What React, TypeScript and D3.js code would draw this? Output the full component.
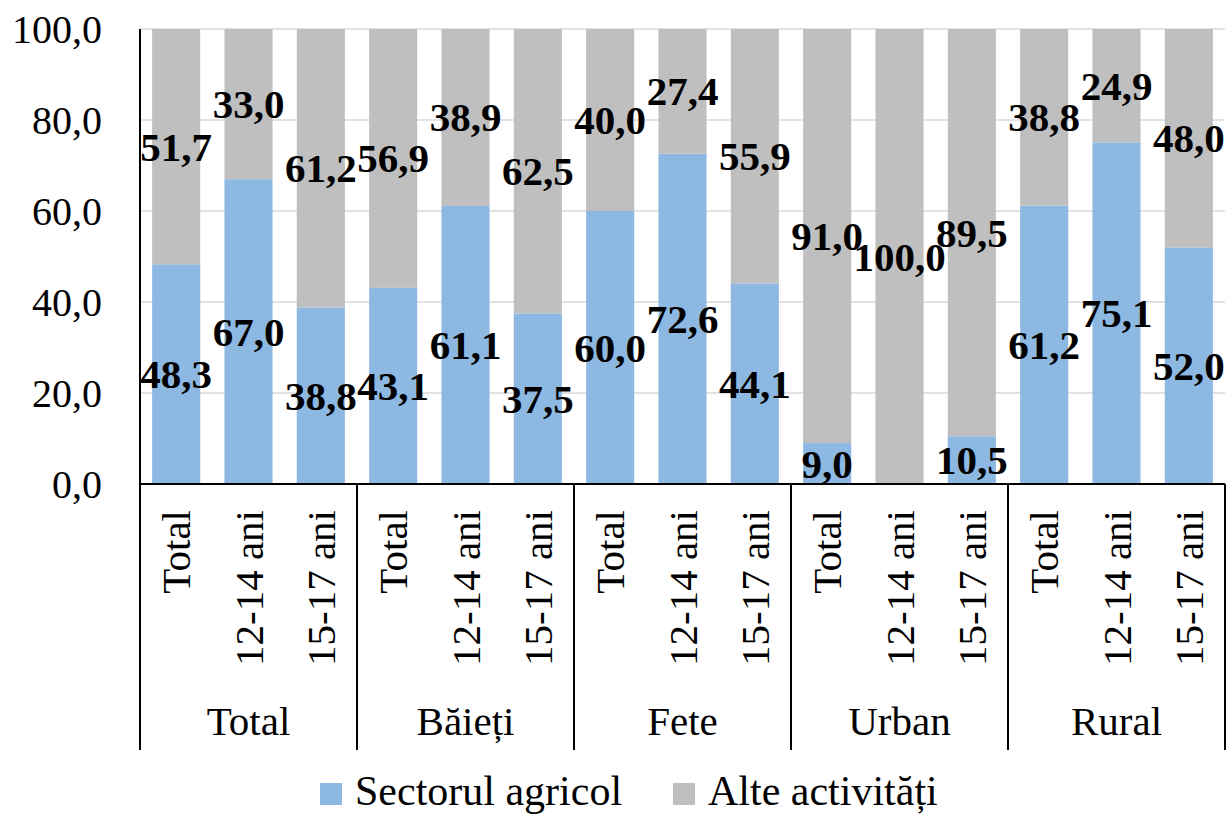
import React from 'react';
import * as d3 from 'd3';

const groups = ['Total', 'Băieți', 'Fete', 'Urban', 'Rural'];
const ages = ['Total', '12-14 ani', '15-17 ani'];
const agricol = [48.3, 67.0, 38.8, 43.1, 61.1, 37.5, 60.0, 72.6, 44.1, 9.0, 0, 10.5, 61.2, 75.1, 52.0];
const alte = [51.7, 33.0, 61.2, 56.9, 38.9, 62.5, 40.0, 27.4, 55.9, 91.0, 100.0, 89.5, 38.8, 24.9, 48.0];
const yTicks = [0, 20, 40, 60, 80, 100];
const seriesNames = ['Sectorul agricol', 'Alte activități'];

const W = 1232, H = 818;
const FONT = "'Liberation Serif', 'Times New Roman', serif";
const BLUE = '#8db8e2';
const GRAY = '#bfbfbf';

const left = 140, right = 1225, top = 29, bottom = 484, axisBottom = 750;

const keys = groups.flatMap(g => ages.map(a => g + '|' + a));
const x = d3.scaleBand().domain(keys).range([left, right]).paddingInner(0.335).paddingOuter(0.1675);
const y = d3.scaleLinear().domain([0, 100]).range([bottom, top]);
const gx = d3.scaleBand().domain(groups).range([left, right]);
const fmt = (v: number) => d3.format('.1f')(v).replace('.', ',');

export default function App() {
  const rows = keys.map((k, i) => ({ k, a: agricol[i], b: alte[i], cx: x(k)! + x.bandwidth() / 2 }));
  // legend entries: swatch x, text x
  const legendX = [320, 673];
  const colors = [BLUE, GRAY];

  return (
    <svg width={W} height={H} fontFamily={FONT}
      style={{ position: 'absolute', left: 0, top: 0, background: '#fff' }}>
      {/* gridlines */}
      {yTicks.filter(t => t > 0).map(t => (
        <line key={t} x1={left} x2={right} y1={y(t)} y2={y(t)} stroke="#d9d9d9" strokeWidth={1.5} />
      ))}
      {/* y tick labels */}
      {yTicks.map(t => (
        <text key={t} x={102} y={y(t)} textAnchor="end" dominantBaseline="central" fontSize={40}>{fmt(t)}</text>
      ))}
      {/* bars */}
      {rows.map(d => (
        <g key={d.k}>
          <rect x={x(d.k)} width={x.bandwidth()} y={y(d.a)} height={y(0) - y(d.a)} fill={BLUE} />
          <rect x={x(d.k)} width={x.bandwidth()} y={y(d.a + d.b)} height={y(d.a) - y(d.a + d.b)} fill={GRAY} />
        </g>
      ))}
      {/* axis lines */}
      <line x1={left} x2={left} y1={top} y2={axisBottom} stroke="#000" strokeWidth={2} />
      <line x1={left} x2={right} y1={bottom} y2={bottom} stroke="#000" strokeWidth={2} />
      {groups.map(g => (
        <line key={g} x1={gx(g)! + gx.bandwidth()} x2={gx(g)! + gx.bandwidth()} y1={bottom} y2={axisBottom}
          stroke="#000" strokeWidth={2} />
      ))}
      {/* category labels */}
      {rows.map(d => (
        <text key={d.k} transform={`translate(${d.cx},510) rotate(-90)`} textAnchor="end"
          dominantBaseline="central" fontSize={41}>{d.k.split('|')[1]}</text>
      ))}
      {/* group labels */}
      {groups.map(g => (
        <text key={g} x={gx(g)! + gx.bandwidth() / 2} y={735} textAnchor="middle" fontSize={41}>{g}</text>
      ))}
      {/* data labels */}
      <g fontSize={41} fontWeight="bold">
        {rows.filter(d => d.a > 0).map(d => (
          <text key={'a' + d.k} x={d.cx} y={y(d.a / 2)} textAnchor="middle" dominantBaseline="central">{fmt(d.a)}</text>
        ))}
        {rows.filter(d => d.b > 0).map(d => (
          <text key={'b' + d.k} x={d.cx} y={y(d.a + d.b / 2)} textAnchor="middle" dominantBaseline="central">{fmt(d.b)}</text>
        ))}
      </g>
      {/* legend */}
      {seriesNames.map((s, i) => (
        <g key={s} transform={`translate(${legendX[i]},0)`}>
          <rect x={0} y={783} width={22} height={22} fill={colors[i]} />
          <text x={35} y={805} fontSize={42}>{s}</text>
        </g>
      ))}
    </svg>
  );
}
